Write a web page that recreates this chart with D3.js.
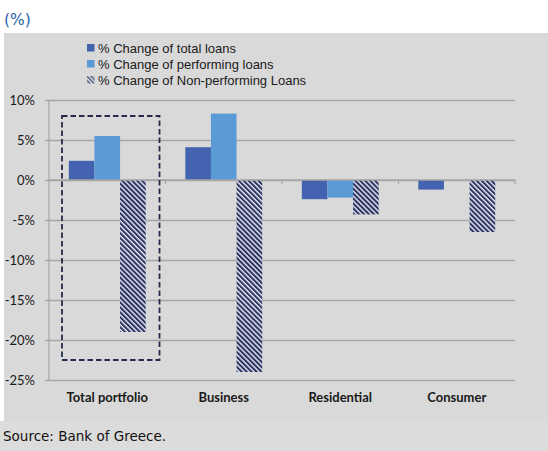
<!DOCTYPE html>
<html>
<head>
<meta charset="utf-8">
<script src="https://cdn.jsdelivr.net/npm/d3@7"></script>
<style>
  html, body { margin: 0; padding: 0; background: #ffffff; }
  svg { display: block; }
</style>
</head>
<body>
<svg id="chart" width="548" height="451"></svg>
<script>
// Loan portfolio changes by segment (%)
const categories = ["Total portfolio", "Business", "Residential", "Consumer"];
const seriesNames = ["% Change of total loans", "% Change of performing loans", "% Change of Non-performing Loans"];
const totalLoans = [2.4, 4.1, -2.4, -1.2];
const performingLoans = [5.5, 8.3, -2.2, 0];
const nonPerformingLoans = [-19.0, -24.0, -4.3, -6.5];
const yTicks = [10, 5, 0, -5, -10, -15, -20, -25];
const highlightRange = [8, -22.5];   // dashed frame around the first group

const series = [totalLoans, performingLoans, nonPerformingLoans];
const colors = ["#4363B1", "#5B9BD5", null];
const labelFont = "Lato, Carlito, Liberation Sans, Arial, sans-serif";
const legendFont = "Liberation Sans, Arial, sans-serif";
const noteFont = "DejaVu Sans, Verdana, sans-serif";

const svg = d3.select("#chart");

// panel backgrounds
svg.append("rect").attr("x", 4).attr("y", 33).attr("width", 544).attr("height", 388).attr("fill", "#d9d9d9");
svg.append("rect").attr("x", 0).attr("y", 421).attr("width", 548).attr("height", 30).attr("fill", "#dcdcdc");

// hatch pattern for non-performing loans
const defs = svg.append("defs");
const pat = defs.append("pattern")
  .attr("id", "hatch").attr("patternUnits", "userSpaceOnUse")
  .attr("width", 3.5).attr("height", 3.5)
  .attr("patternTransform", "rotate(-45)");
pat.append("rect").attr("width", 3.5).attr("height", 3.5).attr("fill", "#eeeef2");
pat.append("rect").attr("x", 0).attr("width", 2.1).attr("height", 3.5).attr("fill", "#2a3364");

const pat2 = defs.append("pattern")
  .attr("id", "hatchSmall").attr("patternUnits", "userSpaceOnUse")
  .attr("width", 3).attr("height", 3)
  .attr("patternTransform", "rotate(-45)");
pat2.append("rect").attr("width", 3).attr("height", 3).attr("fill", "#d9d9d9");
pat2.append("rect").attr("width", 1.3).attr("height", 3).attr("fill", "#3a4478");

// title
svg.append("text").attr("x", 4).attr("y", 25)
  .attr("font-family", noteFont).attr("font-size", 15.5)
  .attr("fill", "#2a64ad").text("(%)");

// scales
const x0 = d3.scaleBand().domain(categories).range([49, 515]).paddingInner(0).paddingOuter(0);
const y = d3.scaleLinear().domain([-25, 10]).range([380, 100]);
const groupInner = 0.34; // share of each band left as gap
const x1 = d3.scaleBand().domain(d3.range(series.length))
  .range([x0.bandwidth() * groupInner / 2, x0.bandwidth() * (1 - groupInner / 2)]);

// gridlines & y labels
const yAxis = d3.axisLeft(y).tickValues(yTicks).tickSize(-(515 - 45)).tickFormat(d => d + "%");
const gy = svg.append("g").attr("transform", "translate(45,0)").call(yAxis);
gy.select(".domain").remove();
gy.selectAll(".tick line").attr("stroke", "#a6a6a6").attr("stroke-width", 1.6);
gy.selectAll(".tick text")
  .attr("x", -10)
  .attr("fill", "#1a1a1a")
  .attr("font-family", labelFont)
  .attr("font-size", 13);
// vertical axis line
svg.append("line").attr("x1", 49).attr("x2", 49).attr("y1", y(10)).attr("y2", y(-25))
  .attr("stroke", "#a6a6a6").attr("stroke-width", 1.2);

// bars
const groups = svg.append("g").selectAll("g").data(categories).join("g")
  .attr("transform", d => `translate(${x0(d)},0)`);
series.forEach((vals, si) => {
  groups.append("rect")
    .attr("x", x1(si))
    .attr("width", x1.bandwidth())
    .attr("y", (d, i) => y(Math.max(0, vals[i])))
    .attr("height", (d, i) => Math.abs(y(vals[i]) - y(0)))
    .attr("fill", colors[si] || "url(#hatch)");
});

// zero axis with category ticks
svg.append("line").attr("x1", 49).attr("x2", 515).attr("y1", y(0)).attr("y2", y(0))
  .attr("stroke", "#a6a6a6").attr("stroke-width", 1.6);
svg.append("g").selectAll("line").data(categories).join("line")
  .attr("x1", d => x0(d) + x0.bandwidth()).attr("x2", d => x0(d) + x0.bandwidth())
  .attr("y1", y(0)).attr("y2", y(0) + 4)
  .attr("stroke", "#a6a6a6").attr("stroke-width", 1.2);

// category labels
svg.append("g").selectAll("text").data(categories).join("text")
  .attr("x", d => x0(d) + x0.bandwidth() / 2)
  .attr("y", 402)
  .attr("text-anchor", "middle")
  .attr("font-family", labelFont)
  .attr("font-weight", "bold").attr("font-size", 13)
  .attr("fill", "#1a1a1a").text(d => d);

// dashed highlight around Total portfolio
const first = categories[0];
svg.append("rect")
  .attr("x", x0(first) + 13)
  .attr("y", y(highlightRange[0]))
  .attr("width", x0.bandwidth() - 19)
  .attr("height", y(highlightRange[1]) - y(highlightRange[0]))
  .attr("fill", "none").attr("stroke", "#232a4d").attr("stroke-width", 1.8)
  .attr("stroke-dasharray", "5.5,3");

// legend
const legend = svg.append("g").attr("transform", "translate(87,41)");
seriesNames.forEach((name, i) => {
  const row = legend.append("g").attr("transform", `translate(0,${i * 16})`);
  row.append("rect").attr("x", 0).attr("y", 3).attr("width", 7.5).attr("height", 7.5)
    .attr("fill", colors[i] || "url(#hatchSmall)");
  row.append("text").attr("x", 11).attr("y", 11.5)
    .attr("font-family", legendFont)
    .attr("font-size", 13).attr("fill", "#1a1a1a").text(name);
});

// source
svg.append("text").attr("x", 3).attr("y", 441)
  .attr("font-family", noteFont).attr("font-size", 13.5)
  .attr("fill", "#111").text("Source: Bank of Greece.");
</script>
</body>
</html>
